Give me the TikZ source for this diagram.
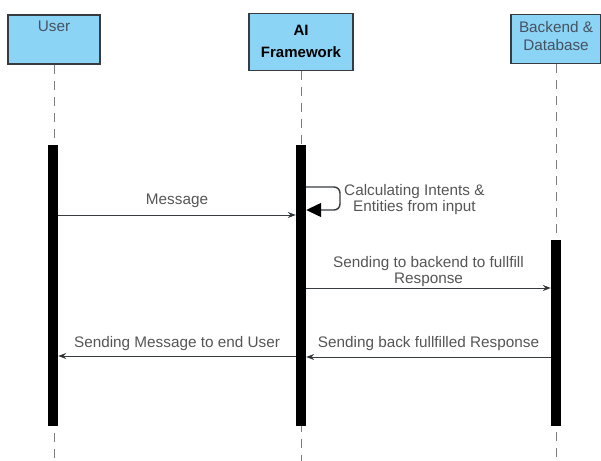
\documentclass[tikz,border=0pt]{standalone}
\usepackage{fontspec}
\setmainfont{Liberation Sans}
\usetikzlibrary{arrows.meta}
\definecolor{boxblue}{RGB}{140,212,246}
\definecolor{boxline}{RGB}{55,60,65}
\definecolor{msgtext}{RGB}{85,85,85}
\definecolor{boxtext}{RGB}{70,82,95}
\definecolor{lifegray}{RGB}{125,125,125}
\tikzset{>={Stealth[length=8pt, width=6pt, fill=black]}}
\tikzset{
  actor/.style={draw=boxline, line width=1.3pt, fill=boxblue, inner sep=0pt},
  bar/.style={fill=black, minimum width=10pt, inner sep=0pt},
  lifeline/.style={draw=lifegray, line width=1pt, dash pattern=on 9pt off 7pt},
  msg/.style={draw=boxline, line width=0.9pt},
  loopline/.style={draw=boxline, line width=1.4pt, rounded corners=6pt,
    -{Triangle[length=15pt, width=14pt, fill=black, color=black]}},
  lbl/.style={text=msgtext, font=\fontsize{15.3}{16.5}\selectfont, align=center, inner sep=0pt},
  actortext/.style={text=boxtext, font=\fontsize{15.3}{18}\selectfont, align=center, inner sep=0pt}
}
\begin{document}
\begin{tikzpicture}[x=1pt, y=-1pt]
\useasboundingbox (0,0) rectangle (601,460);
\coordinate (bottom) at (0,462);

% actor boxes
\node[actor, minimum width=92pt, minimum height=49pt] (user) at (54,39.5) {};
\node[actortext, anchor=north] (usertxt) at ([yshift=-6pt]user.north) {User};
\node[actor, minimum width=104pt, minimum height=57pt, align=center,
  font=\fontsize{15}{22}\selectfont\bfseries] (ai) at (301,41.7) {AI\\Framework};
\node[actor, minimum width=90pt, minimum height=49pt] (backend) at (556,39.3) {};
\node[actortext] (backendtxt) at (556,36) {Backend \&\\Database};

% lifelines
\draw[lifeline] (user.south) -- (user.south |- bottom);
\draw[lifeline] (ai.south) -- (ai.south |- bottom);
\draw[lifeline] (backend.south) -- (backend.south |- bottom);

% activation bars
\node[bar, minimum height=281pt, anchor=north] (userbar) at (53,145) {};
\node[bar, minimum height=281pt, anchor=north] (aibar) at (301,145) {};
\node[bar, minimum height=186pt, anchor=north] (backendbar) at (556,240) {};

% messages
\coordinate (ymsg) at (0,215);
\coordinate (loopa) at (340,187);
\coordinate (loopb) at (340,210);
\coordinate (ysend) at (0,288);
\coordinate (yback) at (0,357);
\coordinate (yuser) at (0,356);

\draw[msg,->] (userbar.east |- ymsg) -- node[lbl, above=7pt] (msglbl) {Message} (aibar.west |- ymsg);

\draw[loopline] (aibar.east |- loopa) -- (loopa) -- (loopb) -- (aibar.east |- loopb);
\node[lbl, anchor=west] (calclbl) at (344,199.5) {Calculating Intents \&\\Entities from input};

\draw[msg,->] (aibar.east |- ysend) -- node[lbl, above=0.5pt] (sendlbl) {Sending to backend to fullfill\\Response} (backendbar.west |- ysend);

\draw[msg,->] (backendbar.west |- yback) -- node[lbl, above=6pt] (backlbl) {Sending back fullfilled Response} (aibar.east |- yback);

\draw[msg,->] (aibar.west |- yuser) -- node[lbl, above=5pt] (userlbl) {Sending Message to end User} (userbar.east |- yuser);

\end{tikzpicture}
\end{document}
